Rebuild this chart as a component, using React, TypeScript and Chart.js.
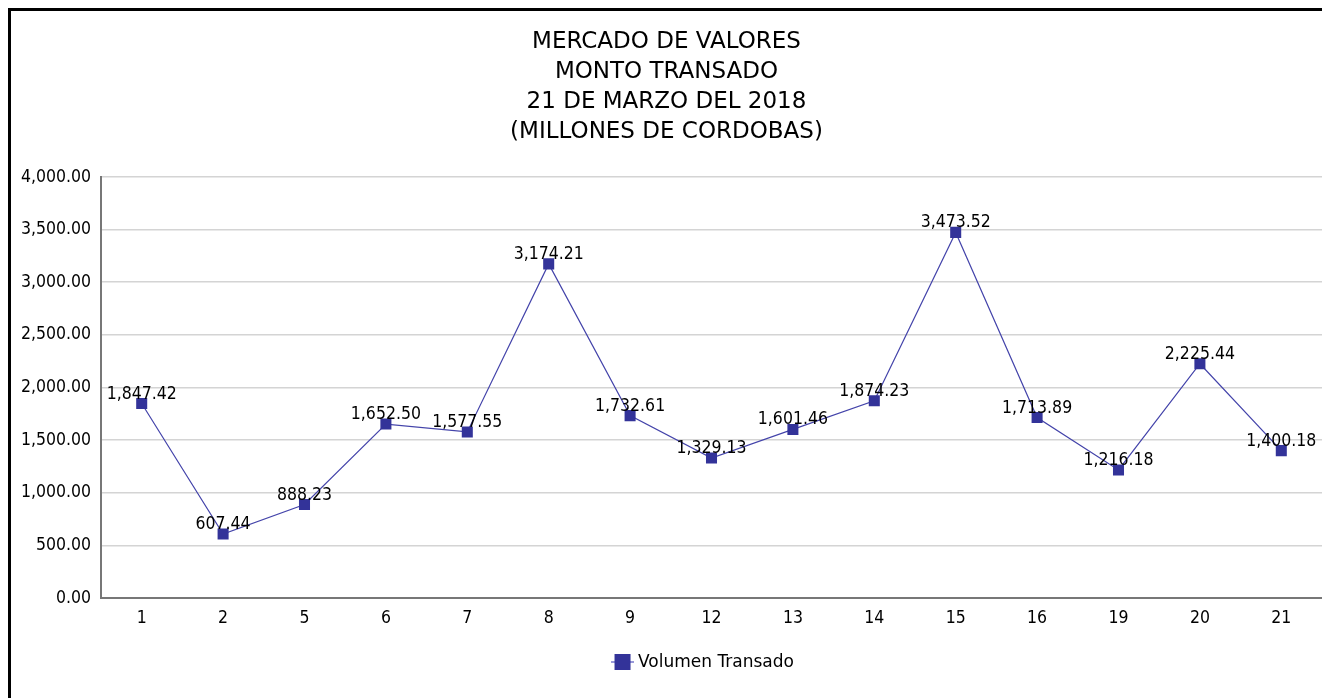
import React, { useEffect, useRef } from "react";
import { Chart, registerables } from "chart.js";

Chart.register(...registerables);

const titleLines = [
  "MERCADO DE VALORES",
  "MONTO TRANSADO",
  "21 DE MARZO DEL 2018",
  "(MILLONES DE CORDOBAS)",
];
const categories = ["1", "2", "5", "6", "7", "8", "9", "12", "13", "14", "15", "16", "19", "20", "21"];
const seriesName = "Volumen Transado";
const volumen = [
  1847.42, 607.44, 888.23, 1652.5, 1577.55, 3174.21, 1732.61, 1329.13, 1601.46, 1874.23, 3473.52,
  1713.89, 1216.18, 2225.44, 1400.18,
];
const yMin = 0;
const yMax = 4000;
const yStep = 500;

const FONT = "'DejaVu Sans', sans-serif";
const NUMFONT = "'DejaVu Sans Condensed', 'DejaVu Sans', sans-serif";
const LINE_COLOR = "#4444aa";
const MARK_COLOR = "#333399";
const fmt = (v: number) =>
  v.toLocaleString("en-US", { minimumFractionDigits: 2, maximumFractionDigits: 2 });

const dataLabels = {
  id: "dataLabels",
  afterDatasetsDraw(chart: any) {
    const ctx = chart.ctx;
    const meta = chart.getDatasetMeta(0);
    const data = chart.data.datasets[0].data as number[];
    ctx.save();
    ctx.font = `17.5px ${NUMFONT}`;
    ctx.fillStyle = "#000";
    ctx.textAlign = "center";
    ctx.textBaseline = "alphabetic";
    meta.data.forEach((pt: any, i: number) => {
      ctx.fillText(fmt(data[i]), pt.x, pt.y - 5);
    });
    ctx.restore();
  },
};

const bottomLegend = {
  id: "bottomLegend",
  afterDraw(chart: any) {
    const ctx = chart.ctx;
    const area = chart.chartArea;
    const label = chart.data.datasets[0].label as string;
    ctx.save();
    ctx.font = `17px ${FONT}`;
    const tw = ctx.measureText(label).width;
    const iconW = 23;
    const gap = 4;
    const total = iconW + gap + tw;
    const cx = (area.left + area.right) / 2 - 9;
    const x0 = cx - total / 2;
    const cy = area.bottom + 64;
    ctx.strokeStyle = "#7777cc";
    ctx.lineWidth = 1.5;
    ctx.beginPath();
    ctx.moveTo(x0, cy);
    ctx.lineTo(x0 + iconW, cy);
    ctx.stroke();
    ctx.fillStyle = MARK_COLOR;
    ctx.fillRect(x0 + iconW / 2 - 8, cy - 8, 16, 16);
    ctx.fillStyle = "#000";
    ctx.textAlign = "left";
    ctx.textBaseline = "middle";
    ctx.fillText(label, x0 + iconW + gap, cy + 1);
    ctx.restore();
  },
};

export default function App() {
  const ref = useRef<HTMLCanvasElement>(null);
  useEffect(() => {
    if (!ref.current) return;
    const chart = new Chart(ref.current, {
      type: "line",
      data: {
        labels: categories,
        datasets: [
          {
            label: seriesName,
            data: volumen,
            borderColor: LINE_COLOR,
            borderWidth: 1.2,
            backgroundColor: MARK_COLOR,
            pointBackgroundColor: MARK_COLOR,
            pointBorderColor: MARK_COLOR,
            pointBorderWidth: 0,
            pointStyle: "rect",
            pointRadius: 7.8,
            tension: 0,
          },
        ],
      },
      options: {
        animation: false,
        responsive: false,
        maintainAspectRatio: false,
        layout: { padding: { left: 0, right: 8, top: 0, bottom: 55 } },
        plugins: {
          title: {
            display: true,
            text: titleLines,
            color: "#000",
            font: { family: FONT, size: 23, weight: "normal", lineHeight: 1.304 },
            padding: { top: 16, bottom: 30 },
          },
          legend: { display: false },
          tooltip: { enabled: false },
        },
        scales: {
          x: {
            offset: true,
            grid: { display: false, drawTicks: false },
            border: { color: "#777", width: 2 },
            ticks: { color: "#000", font: { family: NUMFONT, size: 17.5 }, padding: 10 },
            afterFit: (s: any) => {
              s.height = 45;
            },
          },
          y: {
            min: yMin,
            max: yMax,
            ticks: {
              stepSize: yStep,
              color: "#000",
              font: { family: NUMFONT, size: 17.5 },
              padding: 10,
              callback: (v: any) => fmt(Number(v)),
            },
            grid: { color: "#d4d4d4", lineWidth: 1.5, drawTicks: false },
            border: { color: "#777", width: 2 },
            afterFit: (s: any) => {
              s.width = 90;
            },
          },
        },
      },
      plugins: [dataLabels, bottomLegend],
    });
    return () => chart.destroy();
  }, []);

  return (
    <div
      style={{
        borderTop: "3px solid #000",
        borderLeft: "3px solid #000",
        width: 1319,
        height: 690,
        boxSizing: "content-box",
        overflow: "hidden",
      }}
    >
      <canvas ref={ref} width={1319} height={687} style={{ display: "block" }} />
    </div>
  );
}
